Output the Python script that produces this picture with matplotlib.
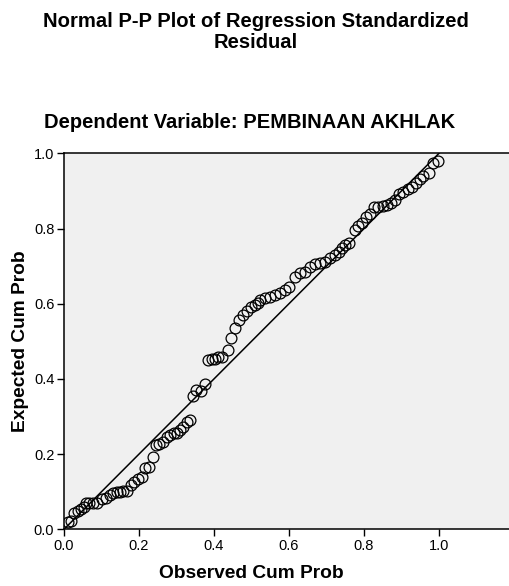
import matplotlib
matplotlib.use("Agg")
import matplotlib.pyplot as plt

plt.rcParams['font.family'] = ['Liberation Sans', 'DejaVu Sans']

observed = [0.010, 0.019, 0.027, 0.036, 0.045, 0.052, 0.059, 0.067, 0.078, 0.089,
            0.100, 0.112, 0.123, 0.131, 0.140, 0.149, 0.158, 0.167, 0.178, 0.187,
            0.196, 0.207, 0.216, 0.226, 0.236, 0.245, 0.254, 0.265, 0.274, 0.283,
            0.292, 0.300, 0.309, 0.316, 0.327, 0.336, 0.345, 0.353, 0.364, 0.375,
            0.385, 0.394, 0.403, 0.411, 0.422, 0.437, 0.445, 0.456, 0.466, 0.476,
            0.487, 0.498, 0.509, 0.518, 0.523, 0.536, 0.549, 0.563, 0.576, 0.589,
            0.601, 0.616, 0.629, 0.643, 0.656, 0.669, 0.683, 0.696, 0.709, 0.723,
            0.732, 0.741, 0.749, 0.761, 0.776, 0.785, 0.794, 0.805, 0.816, 0.827,
            0.838, 0.850, 0.860, 0.871, 0.883, 0.894, 0.905, 0.916, 0.927, 0.938,
            0.949, 0.958, 0.972, 0.983, 0.996]
expected = [0.020, 0.022, 0.044, 0.049, 0.053, 0.060, 0.069, 0.069, 0.069, 0.069,
            0.080, 0.084, 0.091, 0.096, 0.098, 0.100, 0.101, 0.103, 0.118, 0.126,
            0.133, 0.139, 0.162, 0.166, 0.193, 0.224, 0.227, 0.231, 0.246, 0.252,
            0.255, 0.256, 0.263, 0.272, 0.286, 0.290, 0.355, 0.370, 0.368, 0.386,
            0.450, 0.452, 0.454, 0.457, 0.459, 0.477, 0.510, 0.535, 0.557, 0.570,
            0.581, 0.590, 0.596, 0.602, 0.610, 0.614, 0.619, 0.623, 0.629, 0.636,
            0.645, 0.672, 0.681, 0.685, 0.698, 0.705, 0.707, 0.712, 0.721, 0.729,
            0.738, 0.747, 0.756, 0.762, 0.796, 0.807, 0.814, 0.830, 0.839, 0.856,
            0.858, 0.860, 0.862, 0.867, 0.876, 0.892, 0.898, 0.904, 0.911, 0.920,
            0.931, 0.940, 0.948, 0.973, 0.980]
ref_line = [0.0, 1.0]
ticks = [0.0, 0.2, 0.4, 0.6, 0.8, 1.0]
tick_labels = ["0.0", "0.2", "0.4", "0.6", "0.8", "1.0"]

W, H = 509, 586
fig = plt.figure(figsize=(W / 100, H / 100), dpi=100)
fig.patch.set_facecolor("white")
left, right, bottom, top = 64, 509, 529.3, 153.3
ax = fig.add_axes([left / W, 1 - bottom / H, (right - left) / W, (bottom - top) / H])
ax.set_facecolor("#F0F0F0")
ax.set_xlim(0, (right - left) / 375.0)
ax.set_ylim(0, 1.0)

ax.plot(ref_line, ref_line, color="black", linewidth=1.1, zorder=2)
ax.plot(observed, expected, linestyle="none", marker="o", markersize=7.8,
        markerfacecolor="none", markeredgecolor="black", markeredgewidth=0.9, zorder=3)

ax.set_xticks(ticks)
ax.set_xticklabels(tick_labels)
ax.set_yticks(ticks)
ax.set_yticklabels(tick_labels)
ax.tick_params(direction="out", length=5, width=1, labelsize=10.5, colors="black", pad=2)
for s in ["left", "bottom", "top"]:
    ax.spines[s].set_linewidth(1.1)
ax.spines["right"].set_visible(False)

fig.text(251 / W, 1 - 574 / H, "Observed Cum Prob", ha="center", va="center",
         fontsize=13.8, fontweight="bold")
fig.text(21 / W, 1 - 341 / H, "Expected Cum Prob", ha="center", va="center",
         rotation=90, fontsize=13.8, fontweight="bold")

fig.text(256 / W, 1 - 32 / H, "Normal P-P Plot of Regression Standardized\nResidual",
         ha="center", va="center", fontsize=14.6, fontweight="bold", linespacing=1.08)
fig.text(250 / W, 1 - 122 / H, "Dependent Variable: PEMBINAAN AKHLAK",
         ha="center", va="center", fontsize=14.5, fontweight="bold")

fig.savefig("out.png", dpi=100)
